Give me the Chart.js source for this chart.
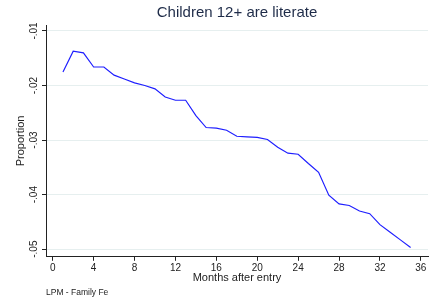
<!DOCTYPE html>
<html>
<head>
<meta charset="utf-8">
<script src="https://cdn.jsdelivr.net/npm/chart.js@4.4.0/dist/chart.umd.min.js"></script>
<style>
  html, body { margin:0; padding:0; background:#fff; }
  #wrap { width:445px; height:303px; }
</style>
</head>
<body>
<div id="wrap"><canvas id="myChart" width="445" height="303"></canvas></div>
<script>
// datos
let meses = [1,2,3,4,5,6,7,8,9,10,11,12,13,14,15,16,17,18,19,20,21,22,23,24,25,26,27,28,29,30,31,32,33,34,35];
let proporcion = [-0.0175,-0.0137,-0.0140,-0.0166,-0.0166,-0.0181,-0.0188,-0.0195,-0.0200,-0.0206,
  -0.0221,-0.0227,-0.0227,-0.0255,-0.0277,-0.0278,-0.0282,-0.0293,-0.0294,-0.0295,
  -0.0299,-0.0313,-0.0324,-0.0326,-0.0343,-0.0359,-0.0401,-0.0417,-0.0420,-0.0430,
  -0.0435,-0.0455,-0.0469,-0.0483,-0.0497];
let ticksX = [0,4,8,12,16,20,24,28,32,36];
let ticksY = [-0.01,-0.02,-0.03,-0.04,-0.05];
let etiquetasY = ["-.01","-.02","-.03","-.04","-.05"];

let fuente = "'Liberation Sans', Arial, sans-serif";
let oscuro = "#222222";

const ctx = document.getElementById('myChart');
const puntos = meses.map((m, i) => ({x: m, y: proporcion[i]}));

new Chart(ctx, {
  type: 'line',
  data: {
    datasets: [{
      data: puntos,
      borderColor: '#1f1fff',
      borderWidth: 1.2,
      pointRadius: 0,
      tension: 0,
      fill: false
    }]
  },
  options: {
    responsive: false,
    animation: false,
    layout: { padding: { left: 0, right: 17, top: 0, bottom: 0 } },
    plugins: {
      legend: { display: false },
      tooltip: { enabled: false },
      title: {
        display: true,
        text: 'Children 12+ are literate',
        fullSize: false,
        color: '#1e2b48',
        font: { family: fuente, size: 15, weight: 'normal' },
        padding: { top: 4, bottom: 3 }
      },
      subtitle: {
        display: true,
        text: 'LPM - Family Fe',
        position: 'bottom',
        align: 'start',
        fullSize: false,
        color: oscuro,
        font: { family: fuente, size: 8.5 },
        padding: { top: 2, bottom: 5 }
      }
    },
    scales: {
      x: {
        type: 'linear',
        min: -0.66,
        max: 36.7,
        afterBuildTicks: (scale) => { scale.ticks = ticksX.map(v => ({value: v})); },
        afterFit: (scale) => { scale.height = 29; },
        ticks: {
          color: oscuro,
          font: { family: fuente, size: 10 },
          padding: 1,
          maxRotation: 0,
          autoSkip: false
        },
        grid: { drawOnChartArea: false, drawTicks: true, tickLength: 4, tickColor: oscuro },
        border: { color: oscuro, width: 1 },
        title: {
          display: true,
          text: 'Months after entry',
          color: oscuro,
          font: { family: fuente, size: 11 },
          padding: { top: 0, bottom: 1 }
        }
      },
      y: {
        min: -0.0514,
        max: -0.0089,
        afterBuildTicks: (scale) => { scale.ticks = ticksY.map(v => ({value: v})); },
        afterFit: (scale) => { scale.width = 46; },
        ticks: {
          color: oscuro,
          font: { family: fuente, size: 10 },
          minRotation: 90,
          maxRotation: 90,
          crossAlign: 'center',
          padding: -1,
          autoSkip: false,
          callback: (v) => {
            let i = ticksY.findIndex(t => Math.abs(t - v) < 1e-9);
            return i >= 0 ? etiquetasY[i] : '';
          }
        },
        grid: { color: '#e6efef', lineWidth: 1, drawTicks: true, tickLength: 4, tickColor: oscuro },
        border: { color: oscuro, width: 1 },
        title: {
          display: true,
          text: 'Proportion',
          color: oscuro,
          font: { family: fuente, size: 11 },
          padding: { top: 14, bottom: 0 }
        }
      }
    }
  }
});
</script>
</body>
</html>
